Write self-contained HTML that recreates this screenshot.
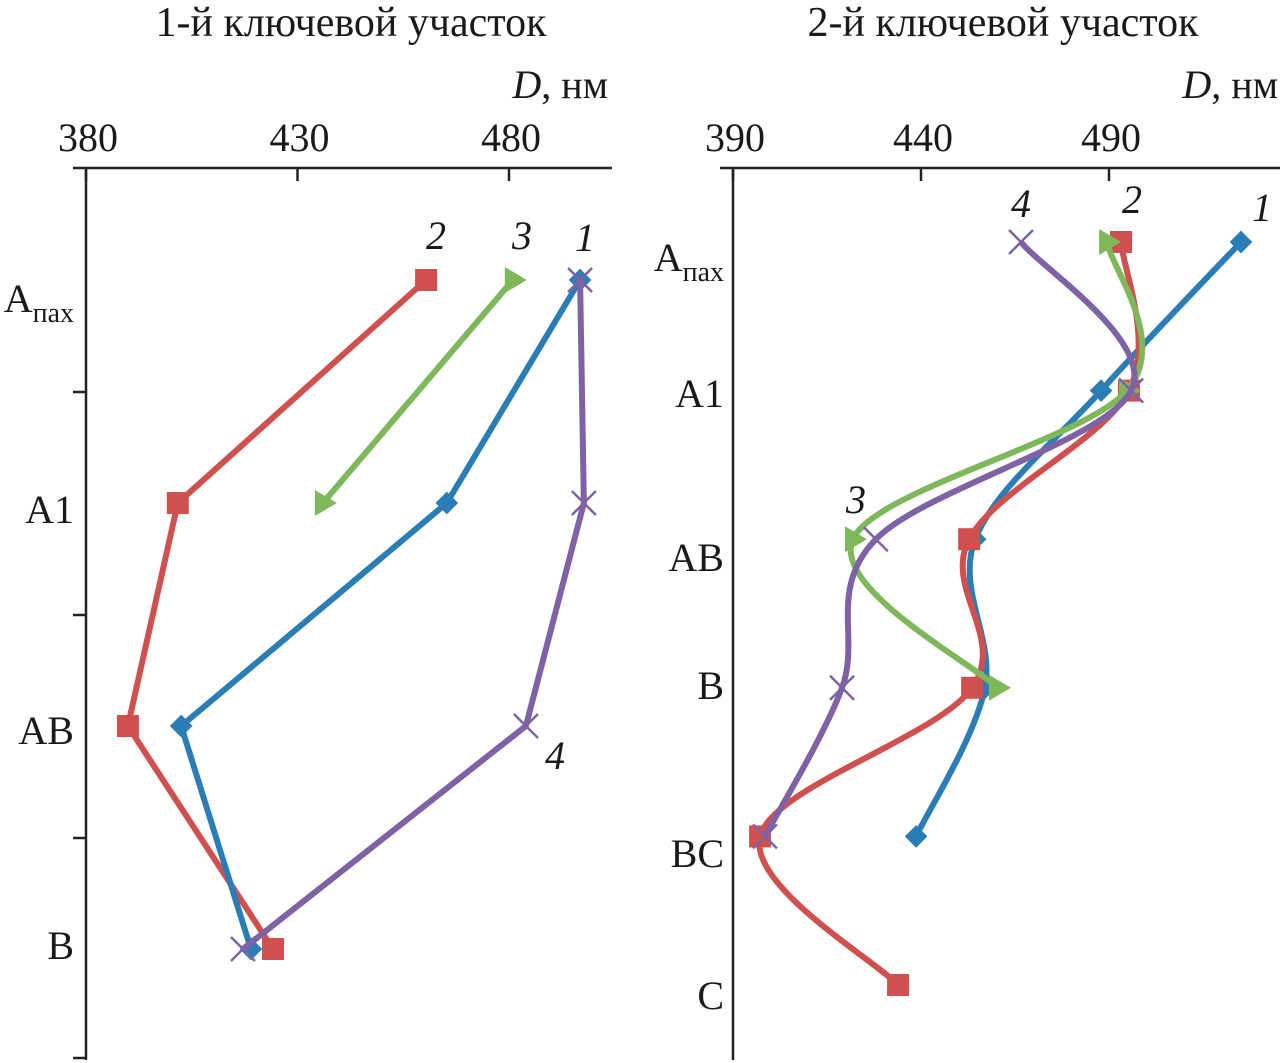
<!DOCTYPE html>
<html><head><meta charset="utf-8"><style>
body{margin:0;background:#fff}
svg{display:block}
text{font-family:"Liberation Serif",serif;fill:#1a1a1a}
</style></head><body>
<svg id="c" width="1280" height="1063" viewBox="0 0 1280 1063"></svg>
<script>
const leftCats=["Aпах","A1","AB","B"];
const left1=[496.8,465.3,402.5,419];
const left2=[460.4,401.7,389.9,424.2];
const left3=[480.9,436];
const left4=[496.8,497.7,484,417.1];
const leftTicks=[380,430,480];
const rightCats=["Aпах","A1","AB","B","BC","C"];
const right1=[525.1,487.9,454.4,457,438.7];
const right2=[493.2,495.3,452.8,453.6,397.2,433.9];
const right3=[489.5,494.8,421.9,460.2];
const right4=[466.6,495.9,428,419,398.5];
const rightTicks=[390,440,490];

const NS="http://www.w3.org/2000/svg";
const svg=document.getElementById('c');
function mk(tag,attrs,name,parent){const e=document.createElementNS(NS,tag);for(const k in attrs)e.setAttribute(k,attrs[k]);


(parent||svg).appendChild(e);return e;}
function txt(x,y,s,name,opt){const t=mk('text',Object.assign({x:x,y:y,'font-size':40},opt||{}),name);t.textContent=s;return t;}
const colors={1:"#2a7db5",2:"#d0504f",3:"#7fb75b",4:"#7e62a5"};

const L={x0:86,v0:380,k:4.23,xr:612,ytop:168,yb:1060,y0:280,dy:223};
const R={x0:733,v0:390,k:3.76,xr:1280,ytop:168,yb:1060,y0:242,dy:148.6};
const lx=v=>L.x0+(v-L.v0)*L.k, ly=i=>L.y0+i*L.dy;
const rx=v=>R.x0+(v-R.v0)*R.k, ry=i=>R.y0+i*R.dy;

function axes(P,ticks,xf,pre){
  mk('line',{x1:P.x0-13,y1:P.ytop,x2:P.xr,y2:P.ytop,stroke:'#222','stroke-width':2.5},pre+'-x-axis');
  mk('line',{x1:P.x0,y1:P.ytop,x2:P.x0,y2:P.yb,stroke:'#222','stroke-width':2.5},pre+'-y-axis');
  ticks.forEach(v=>{const x=xf(v);
    mk('line',{x1:x,y1:P.ytop,x2:x,y2:P.ytop+13,stroke:'#222','stroke-width':2.5},pre+'-x-tick');
    txt(x+2,151,String(v),pre+'-x-tick-label',{'text-anchor':'middle'});});
}
axes(L,leftTicks,lx,'left');
axes(R,rightTicks,rx,'right');
[392,615,838,1058].forEach(y=>mk('line',{x1:L.x0-13,y1:y,x2:L.x0,y2:y,stroke:'#222','stroke-width':2.5},'left-y-tick'));

txt(351,36,"1-й ключевой участок","left-title",{'text-anchor':'middle','font-size':42});
txt(1003,36,"2-й ключевой участок","right-title",{'text-anchor':'middle','font-size':42});
function dlab(x,name){const t=txt(x,98,"",name,{'text-anchor':'end'});
 const a=document.createElementNS(NS,'tspan');a.setAttribute('font-style','italic');a.textContent='D';t.appendChild(a);
 const b=document.createElementNS(NS,'tspan');b.textContent=', нм';t.appendChild(b);}
dlab(608,'left-x-axis-title');dlab(1278,'right-x-axis-title');

function catLabel(x,y,s,name){const t=txt(x,y,"",name,{'text-anchor':'end'});
 if(s==="Aпах"){const a=document.createElementNS(NS,'tspan');a.textContent='A';t.appendChild(a);
  const b=document.createElementNS(NS,'tspan');b.setAttribute('font-size','28');b.setAttribute('dy','10');b.textContent='пах';t.appendChild(b);}
 else t.textContent=s;}
const leftLabY=[312,523,744,959];
leftCats.forEach((c,i)=>catLabel(74,leftLabY[i],c,'left-category-label'));
const rightLabY=[271,407,571,699,867,1009];
rightCats.forEach((c,i)=>catLabel(724,rightLabY[i],c,'right-category-label'));

function straight(pts){return pts.map((p,i)=>(i?'L':'M')+p[0]+' '+p[1]).join(' ');}
function smooth(pts){let d='M'+pts[0][0]+' '+pts[0][1];
 for(let i=0;i<pts.length-1;i++){const p0=pts[Math.max(0,i-1)],p1=pts[i],p2=pts[i+1],p3=pts[Math.min(pts.length-1,i+2)];
  const c1=[p1[0]+(p2[0]-p0[0])/6,p1[1]+(p2[1]-p0[1])/6],c2=[p2[0]-(p3[0]-p1[0])/6,p2[1]-(p3[1]-p1[1])/6];
  d+=' C'+c1+' '+c2+' '+p2;}return d;}
function marker(s,x,y,name){const c=colors[s];
 if(s===1)mk('rect',{x:x-8,y:y-8,width:16,height:16,fill:c,transform:`rotate(45 ${x} ${y})`},name);
 else if(s===2)mk('rect',{x:x-11,y:y-11,width:22,height:22,fill:c},name);
 else if(s===3)mk('polygon',{points:`${x-8},${y-13} ${x+14},${y} ${x-8},${y+13}`,fill:c},name);
 else{mk('line',{x1:x-12,y1:y-12,x2:x+12,y2:y+12,stroke:c,'stroke-width':2.5},name);mk('line',{x1:x-12,y1:y+12,x2:x+12,y2:y-12,stroke:c,'stroke-width':2.5},name);}
}
function series(s,vals,xf,yf,sm,pre){const pts=vals.map((v,i)=>[xf(v),yf(i)]);
 mk('path',{d:sm?smooth(pts):straight(pts),fill:'none',stroke:colors[s],'stroke-width':6,'stroke-linejoin':'round'},pre+'-series-'+s+'-line');
 pts.forEach(p=>marker(s,p[0],p[1],pre+'-series-'+s+'-marker'));}
series(2,left2,lx,ly,false,'left');series(3,left3,lx,ly,false,'left');series(1,left1,lx,ly,false,'left');series(4,left4,lx,ly,false,'left');
series(1,right1,rx,ry,true,'right');series(2,right2,rx,ry,true,'right');series(3,right3,rx,ry,true,'right');series(4,right4,rx,ry,true,'right');

function slab(x,y,s,name){txt(x,y,s,name,{'font-style':'italic','text-anchor':'middle'});}
slab(436,249,'2','left-label-2');slab(522,249,'3','left-label-3');slab(585,251,'1','left-label-1');slab(555,769,'4','left-label-4');
slab(1021,217,'4','right-label-4');slab(1132,213,'2','right-label-2');slab(1262,221,'1','right-label-1');slab(856,513,'3','right-label-3');
</script>
</body></html>
